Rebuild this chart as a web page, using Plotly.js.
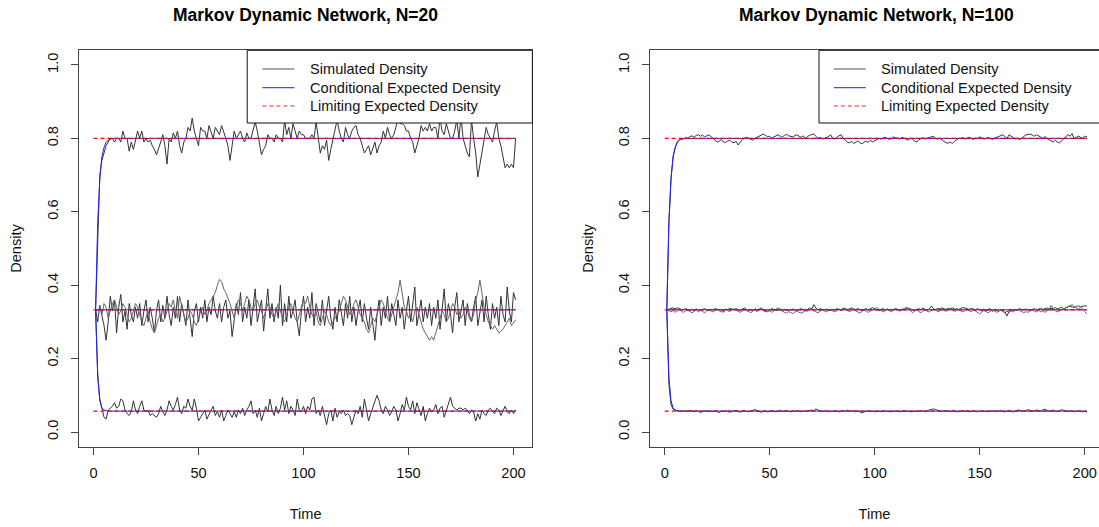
<!DOCTYPE html>
<html>
<head>
<meta charset="utf-8">
<script src="https://cdn.plot.ly/plotly-3.0.1.min.js"></script>
<style>html,body{margin:0;padding:0;background:#fff;}#chart{width:1099px;height:527px;}</style>
</head>
<body>
<div id="chart"></div>
<script>
// ---------- DATA ----------
const panelTitles = ["Markov Dynamic Network, N=20", "Markov Dynamic Network, N=100"];
const xTickVals = [0, 50, 100, 150, 200];
const yTickVals = [0, 0.2, 0.4, 0.6, 0.8, 1.0];
const yTickText = ["0.0", "0.2", "0.4", "0.6", "0.8", "1.0"];
const legendLabels = ["Simulated Density", "Conditional Expected Density", "Limiting Expected Density"];

const timeStart = 1, timeEnd = 201;

// N=20 simulated densities (t = 1..201)
const simN20_high = [
.333,.55,.70,.74,.76,.78,.79,.80,.80,.79,.80,.80,.79,.82,.80,.80,.765,.79,.77,.80,
.82,.80,.82,.79,.80,.79,.795,.78,.77,.755,.77,.79,.81,.78,.73,.80,.79,.815,.80,.82,
.78,.76,.79,.80,.83,.82,.855,.82,.80,.78,.83,.82,.82,.80,.835,.815,.80,.83,.82,.81,
.835,.82,.80,.78,.74,.78,.82,.80,.81,.82,.80,.79,.815,.80,.80,.82,.845,.82,.79,.755,
.77,.78,.81,.80,.80,.79,.81,.80,.80,.79,.85,.81,.83,.80,.84,.82,.80,.82,.81,.81,
.80,.80,.80,.81,.80,.845,.80,.76,.78,.77,.795,.74,.77,.80,.83,.85,.82,.80,.79,.83,
.81,.80,.82,.83,.835,.81,.80,.78,.76,.77,.78,.755,.77,.79,.76,.78,.79,.82,.80,.83,
.81,.80,.81,.83,.86,.84,.84,.835,.82,.82,.80,.79,.76,.78,.80,.835,.82,.83,.82,.84,
.82,.83,.83,.80,.855,.82,.81,.84,.82,.80,.80,.82,.85,.80,.86,.80,.78,.76,.75,.85,
.80,.76,.695,.73,.76,.80,.83,.81,.80,.79,.82,.845,.80,.78,.75,.72,.73,.72,.73,.72,.80
];
const simN20_midA = [
.333,.30,.345,.32,.29,.25,.30,.37,.33,.36,.27,.34,.375,.30,.33,.28,.35,.32,.30,.34,
.31,.35,.29,.33,.36,.30,.34,.31,.27,.33,.36,.30,.345,.31,.37,.32,.29,.34,.31,.37,
.30,.35,.32,.29,.36,.31,.26,.33,.35,.30,.34,.31,.36,.30,.34,.32,.37,.33,.31,.35,
.30,.34,.36,.31,.33,.26,.30,.35,.32,.38,.30,.34,.31,.36,.29,.35,.39,.30,.33,.36,
.275,.33,.39,.31,.35,.30,.34,.31,.40,.29,.35,.30,.37,.31,.33,.36,.30,.262,.33,.37,
.30,.34,.31,.38,.29,.35,.32,.30,.36,.29,.33,.37,.31,.28,.34,.30,.36,.32,.29,.35,
.31,.37,.30,.34,.29,.33,.36,.30,.35,.31,.28,.34,.30,.25,.32,.36,.29,.34,.31,.37,
.30,.35,.32,.29,.36,.31,.34,.28,.33,.37,.30,.35,.395,.29,.33,.36,.30,.34,.31,.35,
.29,.34,.31,.36,.28,.33,.39,.30,.35,.32,.27,.34,.38,.30,.33,.36,.29,.35,.32,.30,
.34,.37,.29,.33,.36,.30,.37,.32,.28,.35,.31,.34,.29,.37,.32,.30,.395,.33,.30,.38,.36
];
const simN20_midB = [
.333,.33,.34,.32,.35,.34,.31,.33,.35,.36,.34,.32,.33,.35,.34,.32,.30,.31,.33,.35,
.34,.32,.30,.29,.31,.33,.30,.28,.27,.29,.31,.32,.30,.31,.33,.35,.34,.36,.33,.31,
.37,.34,.32,.30,.31,.33,.32,.30,.29,.31,.33,.34,.32,.33,.35,.36,.37,.38,.40,.416,
.41,.39,.38,.366,.35,.33,.31,.34,.36,.35,.33,.35,.37,.36,.34,.33,.35,.36,.34,.33,
.31,.33,.35,.34,.32,.31,.33,.35,.33,.31,.30,.32,.34,.35,.33,.31,.30,.32,.34,.36,
.35,.37,.34,.32,.31,.33,.30,.29,.31,.33,.32,.30,.29,.30,.31,.32,.33,.35,.37,.36,
.34,.32,.33,.35,.36,.34,.32,.31,.30,.28,.27,.29,.31,.30,.32,.34,.36,.35,.33,.31,
.30,.32,.34,.36,.38,.414,.37,.34,.33,.31,.32,.30,.33,.34,.32,.30,.28,.27,.26,.25,
.26,.25,.27,.29,.31,.33,.32,.30,.31,.33,.35,.34,.32,.33,.31,.32,.34,.33,.31,.30,
.32,.36,.38,.414,.37,.34,.32,.30,.29,.28,.29,.28,.27,.275,.28,.29,.30,.31,.29,.30,.306
];
const simN20_low = [
.333,.16,.09,.06,.04,.035,.06,.065,.07,.08,.065,.07,.09,.085,.06,.05,.045,.055,.085,.06,
.05,.07,.085,.06,.055,.06,.045,.05,.045,.04,.05,.07,.055,.045,.06,.085,.07,.06,.075,.095,
.06,.05,.07,.065,.09,.07,.06,.09,.065,.03,.04,.05,.06,.035,.05,.06,.07,.045,.055,.04,
.06,.03,.045,.06,.05,.04,.055,.04,.06,.05,.065,.045,.06,.07,.085,.05,.06,.04,.065,.03,
.05,.07,.055,.09,.06,.045,.07,.05,.065,.095,.06,.085,.05,.07,.06,.045,.09,.06,.055,.07,
.05,.07,.06,.09,.095,.05,.06,.045,.07,.04,.02,.05,.06,.03,.065,.04,.055,.05,.06,.045,
.05,.045,.02,.04,.06,.05,.07,.04,.09,.06,.03,.05,.065,.08,.10,.085,.06,.05,.07,.06,
.045,.055,.07,.06,.03,.05,.075,.06,.095,.07,.06,.085,.05,.08,.06,.045,.07,.03,.05,.065,
.055,.06,.075,.05,.065,.07,.04,.06,.08,.095,.07,.065,.06,.065,.065,.06,.065,.06,.05,.06,
.055,.03,.05,.035,.06,.05,.045,.06,.065,.055,.05,.065,.06,.045,.06,.07,.055,.05,.06,.05,.06
];

// N=100 simulated densities (t = 1..201)
const simN100_high = [
.333,.57,.69,.75,.775,.79,.796,.80,.798,.802,.80,.805,.807,.803,.808,.81,.806,.809,.804,.807,
.81,.805,.80,.795,.79,.793,.797,.79,.789,.793,.795,.79,.788,.792,.782,.79,.797,.80,.803,.80,
.798,.795,.80,.803,.807,.81,.812,.808,.805,.806,.80,.804,.808,.81,.806,.803,.808,.811,.807,.805,
.804,.808,.81,.806,.803,.807,.80,.805,.809,.81,.812,.806,.80,.803,.798,.80,.802,.805,.81,.80,
.798,.803,.807,.81,.80,.795,.79,.788,.792,.786,.79,.793,.788,.785,.79,.792,.789,.795,.79,.793,
.796,.80,.798,.801,.803,.80,.797,.80,.804,.802,.80,.798,.803,.80,.797,.795,.80,.798,.793,.79,
.796,.80,.802,.798,.80,.803,.806,.806,.80,.798,.80,.797,.792,.788,.787,.79,.786,.792,.797,.80,
.80,.802,.798,.80,.803,.80,.797,.801,.80,.804,.80,.798,.80,.802,.80,.797,.80,.803,.806,.808,
.81,.805,.80,.81,.806,.80,.798,.80,.797,.80,.806,.81,.81,.812,.809,.806,.81,.808,.804,.80,
.805,.80,.797,.792,.79,.795,.79,.788,.793,.80,.803,.81,.806,.813,.80,.802,.806,.803,.80,.806,.805
];
const simN100_midA = [
.333,.335,.337,.338,.336,.338,.337,.333,.334,.336,.333,.331,.334,.332,.335,.333,.331,.334,.336,.333,
.331,.334,.333,.336,.335,.332,.334,.326,.335,.333,.337,.334,.333,.336,.334,.331,.335,.338,.333,.332,
.334,.33,.336,.333,.335,.338,.333,.331,.327,.333,.336,.334,.331,.333,.336,.33,.334,.332,.33,.333,
.335,.333,.331,.334,.336,.333,.33,.334,.338,.335,.347,.337,.333,.336,.334,.332,.335,.333,.331,.334,
.333,.336,.334,.332,.335,.337,.333,.336,.338,.335,.334,.336,.333,.331,.334,.336,.333,.335,.339,.336,
.333,.331,.334,.336,.333,.335,.332,.334,.333,.336,.334,.331,.335,.333,.336,.338,.335,.333,.331,.334,
.336,.333,.338,.334,.331,.335,.343,.336,.333,.337,.335,.338,.336,.334,.337,.336,.338,.335,.336,.334,
.337,.339,.338,.336,.334,.337,.335,.333,.336,.334,.331,.335,.33,.334,.336,.328,.333,.331,.329,.333,
.331,.326,.316,.329,.333,.331,.334,.333,.336,.334,.333,.335,.333,.331,.334,.336,.333,.335,.337,.334,
.336,.338,.335,.337,.336,.339,.335,.338,.34,.336,.338,.34,.343,.341,.339,.342,.344,.341,.343,.344,.343
];
const simN100_midB = [
.333,.33,.328,.331,.326,.33,.334,.329,.326,.33,.332,.328,.325,.329,.333,.327,.331,.329,.324,.33,
.333,.33,.327,.332,.336,.33,.327,.33,.334,.331,.328,.333,.336,.332,.329,.326,.33,.334,.331,.328,
.325,.33,.333,.328,.332,.336,.33,.327,.333,.329,.326,.33,.334,.339,.333,.329,.326,.324,.328,.325,
.323,.327,.33,.326,.324,.327,.331,.329,.333,.337,.33,.328,.325,.329,.333,.33,.327,.331,.334,.33,
.327,.331,.335,.333,.338,.334,.33,.328,.331,.334,.33,.327,.324,.329,.333,.329,.326,.33,.333,.336,
.339,.335,.331,.327,.33,.335,.331,.327,.333,.337,.333,.329,.333,.337,.34,.336,.331,.325,.329,.333,
.328,.325,.33,.334,.329,.327,.331,.335,.332,.328,.33,.334,.331,.329,.333,.336,.332,.329,.331,.334,
.33,.327,.331,.334,.331,.327,.333,.329,.326,.322,.327,.331,.328,.325,.329,.333,.33,.326,.329,.332,
.328,.325,.329,.326,.33,.327,.331,.334,.331,.328,.325,.328,.326,.33,.333,.329,.327,.331,.328,.33,
.326,.33,.333,.345,.336,.331,.327,.33,.333,.336,.338,.34,.344,.347,.342,.338,.335,.339,.336,.328,.322
];
const simN100_low = [
.333,.13,.075,.062,.058,.057,.055,.056,.058,.057,.056,.059,.057,.055,.058,.057,.053,.056,.058,.057,
.055,.057,.056,.058,.055,.053,.057,.056,.058,.057,.054,.056,.058,.059,.056,.054,.057,.058,.056,.055,
.057,.059,.061,.058,.056,.054,.056,.057,.055,.057,.058,.056,.055,.057,.059,.056,.057,.058,.056,.055,
.057,.056,.058,.057,.055,.058,.056,.057,.058,.06,.058,.063,.06,.058,.056,.057,.058,.055,.057,.056,
.058,.057,.055,.056,.058,.057,.059,.056,.058,.057,.055,.058,.056,.052,.055,.057,.058,.056,.057,.055,
.056,.057,.055,.058,.056,.057,.055,.056,.058,.057,.056,.055,.057,.058,.056,.057,.055,.056,.058,.057,
.056,.058,.057,.055,.058,.06,.062,.063,.061,.059,.057,.056,.058,.057,.055,.056,.058,.057,.056,.055,
.057,.058,.056,.057,.055,.057,.058,.056,.055,.057,.058,.057,.056,.055,.057,.058,.056,.057,.059,.058,
.056,.055,.057,.058,.056,.055,.057,.06,.059,.057,.056,.058,.061,.059,.057,.058,.06,.058,.057,.06,
.062,.059,.057,.058,.06,.057,.056,.058,.061,.059,.057,.056,.058,.057,.055,.057,.058,.056,.055,.057,.054
];

// Conditional expected density (same model for both N)
const condTime = [1, 2, 3, 4, 5, 6, 7, 8, 9, 10, 201];
const condHigh = [0.333, 0.57, 0.69, 0.75, 0.775, 0.79, 0.795, 0.798, 0.8, 0.8, 0.8];
const condMid  = [0.333, 0.333, 0.333, 0.333, 0.333, 0.333, 0.333, 0.333, 0.333, 0.333, 0.333];
const condLow  = [0.333, 0.15, 0.085, 0.065, 0.06, 0.058, 0.057, 0.057, 0.057, 0.057, 0.057];

// Limiting expected density
const limTime = [0, 201];
const limValues = [0.8, 0.333, 0.057];

// ---------- BUILD ----------
const W = 1099, H = 527;
const time = [];
for (let t = timeStart; t <= timeEnd; t++) time.push(t);

const FONT = "Liberation Sans, Arial, Helvetica, sans-serif";
const simColor = "#333333";
const simColor2 = "#666666";

function panelTraces(xa, ya, sims, simCols) {
  const tr = [];
  sims.forEach((s, i) => tr.push({x: time, y: s, xaxis: xa, yaxis: ya, mode: "lines", type: "scatter",
    line: {color: simCols[i], width: 1}, hoverinfo: "skip", showlegend: false}));
  [condHigh, condMid, condLow].forEach(c => tr.push({x: condTime, y: c, xaxis: xa, yaxis: ya, mode: "lines",
    type: "scatter", line: {color: "#2020ff", width: 1}, hoverinfo: "skip", showlegend: false}));
  limValues.forEach(v => tr.push({x: limTime, y: [v, v], xaxis: xa, yaxis: ya, mode: "lines", type: "scatter",
    line: {color: "#ff0000", width: 1.3, dash: "4px,3px"}, hoverinfo: "skip", showlegend: false}));
  return tr;
}

const traces = [].concat(
  panelTraces("x", "y", [simN20_high, simN20_midA, simN20_midB, simN20_low], [simColor, simColor, simColor2, simColor]),
  panelTraces("x2", "y2", [simN100_high, simN100_midA, simN100_midB, simN100_low], [simColor, simColor, simColor2, simColor])
);

// pixel geometry
const boxTop = 50.3, boxBot = 446.7;
const L = {left: 78.8, right: 532.4};
const R = {left: 650, right: 1099};
const ppu = 2.1;
const px = x => x / W;
const py = y => 1 - y / H;

function xAxis(dom, rng) {
  return {domain: dom, range: rng, tickvals: xTickVals, ticktext: xTickVals.map(String),
    ticks: "outside", ticklen: 7, tickcolor: "#444", tickwidth: 1,
    showline: true, linecolor: "#444", linewidth: 1, mirror: true,
    showgrid: false, zeroline: false, ticklabelstandoff: 6,
    tickfont: {family: FONT, size: 14.6, color: "#111"},
    title: {text: "Time", font: {family: FONT, size: 14.6, color: "#111"}, standoff: 28},
    automargin: false, fixedrange: true};
}
function yAxis(anchor, mirror) {
  return {domain: [py(boxBot), py(boxTop)], range: [-0.04, 1.04], anchor: anchor,
    tickvals: yTickVals, ticktext: yTickText, tickangle: -90,
    ticks: "outside", ticklen: 7, tickcolor: "#444", tickwidth: 1,
    showline: true, linecolor: "#444", linewidth: 1, mirror: mirror,
    showgrid: false, zeroline: false, ticklabelstandoff: 7,
    tickfont: {family: FONT, size: 14.6, color: "#111"},
    title: {text: "Density", font: {family: FONT, size: 14.6, color: "#111"}, standoff: 19},
    automargin: false, fixedrange: true};
}

const xa1 = xAxis([px(L.left), px(L.right)], [-7, -7 + (L.right - L.left) / ppu]);
xa1.anchor = "y";
const xa2 = xAxis([px(R.left), 1], [-7, -7 + (R.right - R.left) / ppu]);
xa2.anchor = "y2";

const shapes = [], annotations = [];

function legendFor(boxLeft, boxRight, lineX0, lineX1, textX) {
  shapes.push({type: "rect", xref: "paper", yref: "paper", x0: px(boxLeft), x1: px(boxRight),
    y0: py(123), y1: py(boxTop), line: {color: "#111", width: 1}, fillcolor: "rgba(255,255,255,1)", layer: "above"});
  const rows = [69, 87.7, 106];
  const styles = [{color: "#555", width: 1.2}, {color: "#4a4aff", width: 1.2}, {color: "#ff2020", width: 1, dash: "4px,3px"}];
  rows.forEach((ry, i) => {
    shapes.push({type: "line", xref: "paper", yref: "paper", x0: px(lineX0), x1: px(lineX1), y0: py(ry), y1: py(ry),
      line: styles[i], layer: "above"});
    annotations.push({xref: "paper", yref: "paper", x: px(textX), y: py(ry), xanchor: "left", yanchor: "middle",
      text: legendLabels[i], showarrow: false, font: {family: FONT, size: 14.6, color: "#111"}});
  });
}
legendFor(247.2, L.right, 262.4, 294.4, 307.5);
legendFor(819, 1104, 833.8, 865.8, 879);

annotations.push({xref: "paper", yref: "paper", x: px((L.left + L.right) / 2), y: py(15), xanchor: "center", yanchor: "middle",
  text: "<b>" + panelTitles[0] + "</b>", showarrow: false, font: {family: FONT, size: 17.5, color: "#000"}});
annotations.push({xref: "paper", yref: "paper", x: px(876.8), y: py(15), xanchor: "center", yanchor: "middle",
  text: "<b>" + panelTitles[1] + "</b>", showarrow: false, font: {family: FONT, size: 17.5, color: "#000"}});

const layout = {
  width: W, height: H, margin: {l: 0, r: 0, t: 0, b: 0, pad: 0},
  paper_bgcolor: "#ffffff", plot_bgcolor: "#ffffff", showlegend: false, hovermode: false,
  xaxis: xa1, yaxis: yAxis("x", true), xaxis2: xa2, yaxis2: yAxis("x2", false),
  shapes: shapes, annotations: annotations
};

Plotly.newPlot("chart", traces, layout, {staticPlot: true, displayModeBar: false});
</script>
</body>
</html>
